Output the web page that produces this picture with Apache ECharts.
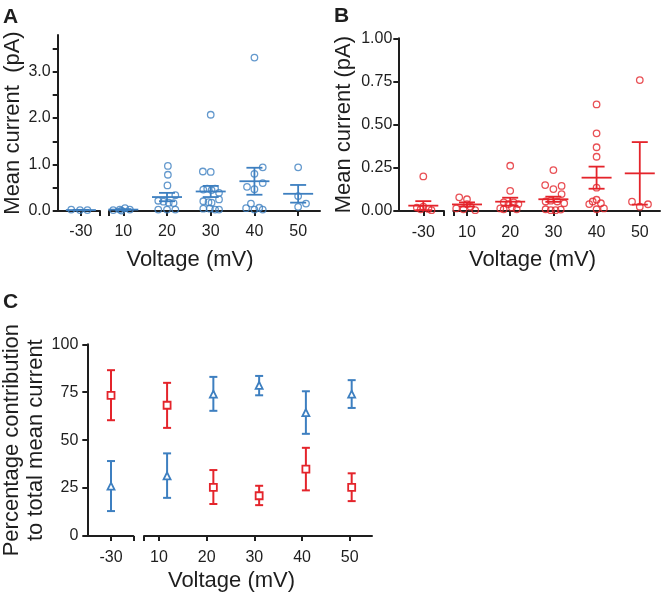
<!DOCTYPE html>
<html><head><meta charset="utf-8">
<script src="https://cdn.jsdelivr.net/npm/echarts@6/dist/echarts.min.js"></script>
<style>html,body{margin:0;padding:0;background:#fff}#c{width:661px;height:599px}</style>
</head><body><div id="c"></div>
<script>
// ---------------- DATA ----------------
const voltages = [-30, 10, 20, 30, 40, 50];
const voltageLabels = ['-30', '10', '20', '30', '40', '50'];

// Panel A (blue): individual cells [voltage, horizontal jitter (mV), mean current pA]
const pointsA = [
  [-30,-2.2,0.03],[-30,-0.2,0.02],[-30,1.5,0.02],
  [10,-2.3,0.02],[10,-0.8,0.03],[10,-0.4,0.01],[10,0.4,0.06],[10,1.5,0.03],
  [20,0.2,0.97],[20,0.2,0.78],[20,0.1,0.55],[20,1.9,0.34],[20,-2.0,0.22],[20,-0.8,0.20],[20,0.4,0.18],[20,1.5,0.17],[20,-2.0,0.03],[20,0,0.03],[20,1.9,0.03],
  [30,0,2.07],[30,-1.8,0.85],[30,0,0.84],[30,-1.7,0.46],[30,-0.8,0.48],[30,0.2,0.45],[30,1.0,0.48],[30,1.9,0.39],[30,1.9,0.25],[30,-1.7,0.21],[30,-0.5,0.19],[30,0.2,0.18],[30,-1.7,0.05],[30,-0.2,0.05],[30,1.0,0.03],[30,1.9,0.03],
  [40,0,3.30],[40,1.9,0.94],[40,0,0.80],[40,1.9,0.60],[40,-1.7,0.52],[40,0,0.47],[40,-0.8,0.16],[40,-1.9,0.06],[40,0,0.03],[40,1.1,0.07],[40,1.9,0.03],
  [50,0,0.94],[50,0,0.32],[50,1.8,0.16],[50,0,0.09]
];
const meanA = [0.02, 0.03, 0.30, 0.42, 0.64, 0.37];
const semA  = [0.005, 0.01, 0.09, 0.12, 0.29, 0.19];

// Panel B (red)
const pointsB = [
  [-30,0,0.20],[-30,-1.5,0.02],[-30,0,0.025],[-30,1.2,0.012],[-30,1.9,0.005],[-30,-0.6,0.01],
  [10,-1.8,0.079],[10,0,0.068],[10,0,0.04],[10,0.8,0.025],[10,-2.5,0.015],[10,-0.8,0.01],[10,1.9,0.005],
  [20,0,0.262],[20,0,0.117],[20,-1.5,0.05],[20,-0.4,0.04],[20,0.8,0.05],[20,1.9,0.04],[20,0.4,0.02],[20,-1.5,0.01],[20,1.5,0.01],[20,-2.3,0.015],
  [30,0,0.237],[30,-1.9,0.150],[30,1.9,0.145],[30,0,0.127],[30,1.9,0.098],[30,-1.8,0.055],[30,-0.6,0.06],[30,0.9,0.055],[30,2.5,0.045],[30,-1.8,0.01],[30,-0.6,0.005],[30,0.5,0.005],[30,1.7,0.008],
  [40,0,0.617],[40,0,0.450],[40,0,0.369],[40,0,0.314],[40,0,0.135],[40,-1.7,0.04],[40,-0.9,0.055],[40,0,0.065],[40,1.0,0.045],[40,0,0.01],[40,1.7,0.015],
  [50,0,0.758],[50,-1.8,0.054],[50,0,0.025],[50,1.9,0.039]
];
const meanB = [0.031, 0.038, 0.054, 0.068, 0.193, 0.218];
const semB  = [0.026, 0.012, 0.023, 0.015, 0.064, 0.181];

// Panel C: percentage contribution (mean, lower, upper)
const xC      = [-30, 11.7, 21.4, 31.0, 40.8, 50.4];
const blueC   = [26.0, 31.4, 74.0, 78.6, 64.4, 74.0];
const blueLoC = [13.0, 19.9, 65.3, 73.4, 53.3, 66.8];
const blueHiC = [39.1, 43.1, 83.0, 83.5, 75.5, 81.3];
const redC    = [73.4, 68.2, 25.4, 21.0, 34.9, 25.4];
const redLoC  = [60.4, 56.4, 16.7, 16.1, 23.8, 18.2];
const redHiC  = [86.5, 79.9, 34.4, 26.2, 46.0, 32.7];

// Tick values
const yTicksA  = [0, 0.5, 1, 1.5, 2, 2.5, 3, 3.5];
const yLabelsA = [0, 1, 2, 3];
const yTicksB  = [0, 0.25, 0.5, 0.75, 1];
const yTicksC  = [0, 25, 50, 75, 100];

// ---------------- STYLE ----------------
const BLUE = '#3d7fc0';
const RED = '#e4242b';
const INK = '#1e1e1e';
const FONT = 'Liberation Sans, Arial, sans-serif';

const chart = echarts.init(document.getElementById('c'), null, {renderer: 'canvas'});

const grids = [
  {left: 57.7, top: 35,    width: 42.3, height: 176},
  {left: 109,  top: 35,    width: 211,  height: 176},
  {left: 398.3,top: 38.3,  width: 45.7, height: 172.7},
  {left: 453.3,top: 38.3,  width: 206.7,height: 172.7},
  {left: 87.3, top: 344.3, width: 46,   height: 191.7},
  {left: 144,  top: 344.3, width: 228,  height: 191.7}
].map(g => Object.assign({outerBoundsMode: 'none', containLabel: false}, g));

const xr = [
  [-35.3, -25.62], [6.73, 55.0],
  [-35.8, -25.2],  [6.83, 54.68],
  [-34.97, -25.33],[6.86, 54.66]
];

function xAxis(gi, margin) {
  const [mn, mx] = xr[gi];
  const left = gi % 2 === 0;
  const tickVals = left ? voltages.filter(v => v < 0).concat([mx]) : [mn].concat(voltages.filter(v => v > 0));
  const labVals = left ? voltages.filter(v => v < 0) : voltages.filter(v => v > 0);
  return {
    type: 'value', gridIndex: gi, min: mn, max: mx,
    axisLine: {show: true, onZero: false, lineStyle: {color: INK, width: 2}},
    axisTick: {show: true, inside: false, length: 5, lineStyle: {color: INK, width: 2}, customValues: tickVals},
    axisLabel: {show: true, margin: margin, color: INK, fontSize: 16, fontFamily: FONT,
      customValues: labVals,
      formatter: v => voltageLabels[voltages.indexOf(Math.round(v))] || ''},
    splitLine: {show: false}
  };
}

function yAxis(gi, min, max, ticks, labels, fmt, name, gap, margin) {
  const left = gi % 2 === 0;
  return {
    type: 'value', gridIndex: gi, min: min, max: max, show: left,
    axisLine: {show: true, onZero: false, lineStyle: {color: INK, width: 2}},
    axisTick: {show: true, length: 5, lineStyle: {color: INK, width: 2}, customValues: ticks},
    axisLabel: {show: true, margin: margin, color: INK, fontSize: 16, fontFamily: FONT, customValues: labels, formatter: fmt},
    splitLine: {show: false},
    name: left ? name : '', nameLocation: 'middle', nameRotate: 90, nameGap: gap,
    nameTextStyle: {color: INK, fontSize: 22, fontFamily: FONT, lineHeight: 24}
  };
}

const fmtA = v => v.toFixed(1);
const fmtB = v => v.toFixed(2);
const fmtC = v => String(Math.round(v));

const xAxes = [xAxis(0, 13), xAxis(1, 13), xAxis(2, 14), xAxis(3, 14), xAxis(4, 14), xAxis(5, 14)];
const yAxes = [
  yAxis(0, 0, 3.785, yTicksA, yLabelsA, fmtA, 'Mean current  (pA)', 32, 7),
  yAxis(1, 0, 3.785, yTicksA, yLabelsA, fmtA, '', 0, 7),
  yAxis(2, 0, 1, yTicksB, yTicksB, fmtB, 'Mean current (pA)', 42, 6),
  yAxis(3, 0, 1, yTicksB, yTicksB, fmtB, '', 0, 6),
  yAxis(4, 0, 100, yTicksC, yTicksC, fmtC, 'Percentage contribution\nto total mean current', 35, 9),
  yAxis(5, 0, 100, yTicksC, yTicksC, fmtC, '', 0, 9)
];

function meanSemRenderer(color, meanHalf, capHalf, lw) {
  return function (params, api) {
    const x = api.value(0), m = api.value(1), s = api.value(2);
    const pm = api.coord([x, m]);
    const pt = api.coord([x, m + s]);
    const pb = api.coord([x, Math.max(m - s, 0)]);
    const st = {stroke: color, lineWidth: lw};
    return {type: 'group', children: [
      {type: 'line', shape: {x1: pm[0] - meanHalf, y1: pm[1], x2: pm[0] + meanHalf, y2: pm[1]}, style: st},
      {type: 'line', shape: {x1: pt[0], y1: pt[1], x2: pb[0], y2: pb[1]}, style: st},
      {type: 'line', shape: {x1: pt[0] - capHalf, y1: pt[1], x2: pt[0] + capHalf, y2: pt[1]}, style: st},
      {type: 'line', shape: {x1: pb[0] - capHalf, y1: pb[1], x2: pb[0] + capHalf, y2: pb[1]}, style: st}
    ]};
  };
}

function rangeRenderer(color, capHalf, lw) {
  return function (params, api) {
    const x = api.value(0);
    const pt = api.coord([x, api.value(2)]);
    const pb = api.coord([x, api.value(1)]);
    const st = {stroke: color, lineWidth: lw};
    return {type: 'group', children: [
      {type: 'line', shape: {x1: pt[0], y1: pt[1], x2: pb[0], y2: pb[1]}, style: st},
      {type: 'line', shape: {x1: pt[0] - capHalf, y1: pt[1], x2: pt[0] + capHalf, y2: pt[1]}, style: st},
      {type: 'line', shape: {x1: pb[0] - capHalf, y1: pb[1], x2: pb[0] + capHalf, y2: pb[1]}, style: st}
    ]};
  };
}

const series = [];
function addScatterPanel(points, means, sems, color, gLeft, gRight) {
  [gLeft, gRight].forEach(gi => {
    const isLeft = gi === gLeft;
    const pts = points.filter(p => (p[0] < 0) === isLeft).map(p => [p[0] + p[1], p[2]]);
    series.push({
      type: 'scatter', xAxisIndex: gi, yAxisIndex: gi, data: pts,
      symbol: 'circle', symbolSize: 6.5,
      itemStyle: {color: 'rgba(255,255,255,0)', borderColor: color, borderWidth: 1.3},
      z: 2, silent: true
    });
    const ms = voltages.map((v, i) => [v, means[i], sems[i]]).filter(d => (d[0] < 0) === isLeft);
    series.push({
      type: 'custom', xAxisIndex: gi, yAxisIndex: gi, data: ms, clip: false,
      renderItem: meanSemRenderer(color, 15, 8, 1.8), z: 3, silent: true
    });
  });
}
addScatterPanel(pointsA, meanA, semA, BLUE, 0, 1);
addScatterPanel(pointsB, meanB, semB, RED, 2, 3);

function addRangePanel(mean, lo, hi, color, symbol) {
  [4, 5].forEach(gi => {
    const isLeft = gi === 4;
    const rows = xC.map((x, i) => [x, lo[i], hi[i], mean[i]]).filter(d => (d[0] < 0) === isLeft);
    series.push({
      type: 'custom', xAxisIndex: gi, yAxisIndex: gi, data: rows.map(r => [r[0], r[1], r[2]]),
      renderItem: rangeRenderer(color, 4, 2), z: 2, silent: true, clip: false
    });
    series.push({
      type: 'scatter', xAxisIndex: gi, yAxisIndex: gi, data: rows.map(r => [r[0], r[3]]),
      symbol: symbol, symbolSize: 7,
      itemStyle: {color: '#ffffff', borderColor: color, borderWidth: 1.8, opacity: 1},
      z: 3, silent: true
    });
  });
}
addRangePanel(blueC, blueLoC, blueHiC, BLUE, 'triangle');
addRangePanel(redC, redLoC, redHiC, RED, 'rect');

const txt = (t, x, y, size, bold, align, valign) => ({
  type: 'text', x: x, y: y, silent: true,
  style: {text: t, fill: INK, font: (bold ? 'bold ' : '') + size + 'px ' + FONT,
          textAlign: align, textVerticalAlign: valign}
});

chart.setOption({
  backgroundColor: '#ffffff',
  animation: false,
  grid: grids,
  xAxis: xAxes,
  yAxis: yAxes,
  series: series,
  graphic: [
    txt('A', 3, 7, 21, true, 'left', 'top'),
    txt('B', 334, 6, 21, true, 'left', 'top'),
    txt('C', 3, 292, 21, true, 'left', 'top'),
    txt('Voltage (mV)', 190, 260, 22, false, 'center', 'middle'),
    txt('Voltage (mV)', 532.5, 260, 22, false, 'center', 'middle'),
    txt('Voltage (mV)', 231.5, 581, 22, false, 'center', 'middle')
  ]
});
</script>
</body></html>
